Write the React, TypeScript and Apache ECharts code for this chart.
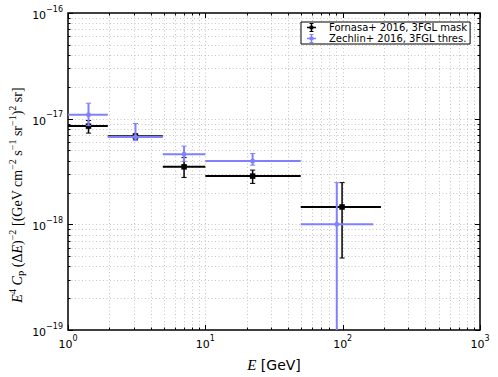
import React, { useEffect, useRef } from "react";
import * as echarts from "echarts";

// ---- data ----
const fornasaE = [1.41, 3.1, 7.0, 22.1, 99];
const fornasaElo = [1.0, 1.95, 4.9, 10.0, 49.5];
const fornasaEhi = [1.95, 4.9, 10.0, 49.5, 190];
const fornasaY = [8.5e-18, 6.8e-18, 3.5e-18, 2.86e-18, 1.46e-18];
const fornasaYlo = [7.3e-18, 6.4e-18, 2.78e-18, 2.44e-18, 4.8e-19];
const fornasaYhi = [9.6e-18, 7.2e-18, 4.28e-18, 3.26e-18, 2.48e-18];

const zechlinE = [1.41, 3.1, 7.0, 22.1, 90.6];
const zechlinElo = [1.0, 1.95, 4.9, 10.0, 49.5];
const zechlinEhi = [1.95, 4.9, 10.0, 49.5, 167];
const zechlinY = [1.09e-17, 6.7e-18, 4.6e-18, 3.97e-18, 1.0e-18];
const zechlinYlo = [8.6e-18, 6.2e-18, 3.95e-18, 3.63e-18, 0];
const zechlinYhi = [1.4e-17, 9.0e-18, 5.5e-18, 4.67e-18, 2.48e-18];

const xDecades = [1, 10, 100, 1000];
const yDecades = [1e-19, 1e-18, 1e-17, 1e-16];
const minorMult = [2, 3, 4, 5, 6, 7, 8, 9];

const nameF = "Fornasa+ 2016, 3FGL mask";
const nameZ = "Zechlin+ 2016, 3FGL thres.";
const colorF = "#000000";
const colorZ = "#8080ff";

const ICON =
  "path://M4.2,0h1.6v10h-1.6z M0,4.3h10v1.4h-10z M2.8,0h4.4v1h-4.4z M2.8,9h4.4v1h-4.4z M3,3h4v4h-4z";

function buildRows(e: number[], elo: number[], ehi: number[], y: number[], ylo: number[], yhi: number[]) {
  return e.map((v, i) => [v, y[i], elo[i], ehi[i], ylo[i], yhi[i]]);
}

function errRender(color: string, marker: number, hW: number, vW: number) {
  return (params: any, api: any) => {
    const cs = params.coordSys;
    const x = api.value(0), y = api.value(1);
    const xl = api.value(2), xh = api.value(3);
    const yl = api.value(4), yh = api.value(5);
    const c = api.coord([x, y]);
    const pl = api.coord([xl, y]);
    const ph = api.coord([xh, y]);
    const top = Math.max(api.coord([x, yh])[1], cs.y);
    const hasLow = yl > 0;
    const bottom = hasLow ? Math.min(api.coord([x, yl])[1], cs.y + cs.height) : cs.y + cs.height;
    const capHalf = 2.6;
    const children: any[] = [
      { type: "line", shape: { x1: pl[0], y1: c[1], x2: ph[0], y2: c[1] }, style: { stroke: color, lineWidth: hW } },
      { type: "line", shape: { x1: c[0], y1: top, x2: c[0], y2: bottom }, style: { stroke: color, lineWidth: vW } },
      { type: "line", shape: { x1: c[0] - capHalf, y1: top, x2: c[0] + capHalf, y2: top }, style: { stroke: color, lineWidth: 1 } },
    ];
    if (hasLow) {
      children.push({ type: "line", shape: { x1: c[0] - capHalf, y1: bottom, x2: c[0] + capHalf, y2: bottom }, style: { stroke: color, lineWidth: 1 } });
    }
    children.push({
      type: "rect",
      shape: { x: c[0] - marker / 2, y: c[1] - marker / 2, width: marker, height: marker },
      style: { fill: color },
    });
    return { type: "group", children };
  };
}

function frameRender(params: any, api: any) {
  const cs = params.coordSys;
  const left = cs.x, right = cs.x + cs.width, topY = cs.y, botY = cs.y + cs.height;
  const children: any[] = [];
  const gridStyle = { stroke: "#c4c4c4", lineWidth: 1, lineDash: [1, 2.5] };
  const xs: { v: number; major: boolean }[] = [];
  xDecades.forEach((d, i) => {
    xs.push({ v: d, major: true });
    if (i < xDecades.length - 1) minorMult.forEach((m) => xs.push({ v: d * m, major: false }));
  });
  const ys: { v: number; major: boolean }[] = [];
  yDecades.forEach((d, i) => {
    ys.push({ v: d, major: true });
    if (i < yDecades.length - 1) minorMult.forEach((m) => ys.push({ v: d * m, major: false }));
  });
  xs.forEach(({ v, major }) => {
    const px = Math.round(api.coord([v, yDecades[0]])[0]) + 0.5;
    if (px > left + 1 && px < right - 1) {
      children.push({ type: "line", shape: { x1: px, y1: topY, x2: px, y2: botY }, style: gridStyle });
    }
    const L = major ? 5 : 2.5;
    children.push({ type: "line", shape: { x1: px, y1: botY, x2: px, y2: botY - L }, style: { stroke: "#000", lineWidth: 1 } });
    children.push({ type: "line", shape: { x1: px, y1: topY, x2: px, y2: topY + L }, style: { stroke: "#000", lineWidth: 1 } });
  });
  ys.forEach(({ v, major }) => {
    const py = Math.round(api.coord([xDecades[0], v])[1]) + 0.5;
    if (py > topY + 1 && py < botY - 1) {
      children.push({ type: "line", shape: { x1: left, y1: py, x2: right, y2: py }, style: gridStyle });
    }
    const L = major ? 5 : 2.5;
    children.push({ type: "line", shape: { x1: left, y1: py, x2: left + L, y2: py }, style: { stroke: "#000", lineWidth: 1 } });
    children.push({ type: "line", shape: { x1: right, y1: py, x2: right - L, y2: py }, style: { stroke: "#000", lineWidth: 1 } });
  });
  return { type: "group", children };
}

const supLabel = (v: number) => {
  const e = Math.round(Math.log10(v));
  const s = e < 0 ? "\u2212" + Math.abs(e) : String(e);
  return `{b|10}{s|${s}}`;
};

const labelRich = {
  b: { fontSize: 11, fontFamily: "DejaVu Sans", color: "#000", lineHeight: 16, verticalAlign: "bottom" },
  s: { fontSize: 8, fontFamily: "DejaVu Sans", color: "#000", lineHeight: 16, verticalAlign: "top" },
};

export default function App() {
  const ref = useRef<HTMLDivElement>(null);
  useEffect(() => {
    if (!ref.current) return;
    const chart = echarts.init(ref.current, undefined, { renderer: "svg" });
    const option: any = {
      animation: false,
      backgroundColor: "#ffffff",
      grid: { left: 68, right: 18, top: 13, bottom: 44, show: true, borderColor: "#000", borderWidth: 1.5, backgroundColor: "transparent" },
      xAxis: {
        type: "log",
        logBase: 10,
        min: 1,
        max: 1000,
        axisLine: { show: false },
        axisTick: { show: false },
        splitLine: { show: false },
        minorTick: { show: false },
        axisLabel: { formatter: supLabel, rich: labelRich, margin: 4, showMinLabel: true, showMaxLabel: true },
        name: "{i|E} [GeV]",
        nameLocation: "middle",
        nameGap: 27,
        nameTextStyle: {
          rich: {
            i: { fontFamily: "Liberation Serif", fontStyle: "italic", fontSize: 15, color: "#000" },
          },
          fontFamily: "DejaVu Sans",
          fontSize: 14,
          color: "#000",
        },
      },
      yAxis: {
        type: "log",
        logBase: 10,
        min: 1e-19,
        max: 1e-16,
        axisLine: { show: false },
        axisTick: { show: false },
        splitLine: { show: false },
        minorTick: { show: false },
        axisLabel: { formatter: supLabel, rich: labelRich, margin: 5, showMinLabel: true, showMaxLabel: true },
      },
      legend: {
        show: true,
        left: 301,
        top: 22,
        orient: "vertical",
        itemGap: 0,
        itemWidth: 9,
        itemHeight: 9,
        padding: [0, 3, 0, 6],
        borderColor: "#000",
        borderWidth: 1,
        borderRadius: 0,
        backgroundColor: "#ffffff",
        selectedMode: false,
        textStyle: { fontSize: 10, fontFamily: "DejaVu Sans", color: "#000", lineHeight: 11, padding: [0, 0, 0, 8] },
        data: [
          { name: nameF, icon: ICON, itemStyle: { color: colorF } },
          { name: nameZ, icon: ICON, itemStyle: { color: colorZ } },
        ],
      },
      graphic: [
        {
          type: "text",
          x: 17,
          y: 195,
          rotation: Math.PI / 2,
          style: {
            text:
              "{i|E}{sup|4} {i|C}{sub|P} (\u0394{i|E}){sup|\u22122} [(GeV cm{sup|\u22122} s{sup|\u22121} sr{sup|\u22121}){sup|2} sr]",
            align: "center",
            verticalAlign: "middle",
            fontFamily: "Liberation Serif",
            fontSize: 14,
            fill: "#000",
            lineHeight: 20,
            rich: {
              i: { fontFamily: "Liberation Serif", fontStyle: "italic", fontSize: 14, lineHeight: 20 },
              sup: { fontFamily: "Liberation Serif", fontSize: 10, lineHeight: 20, verticalAlign: "top" },
              sub: { fontFamily: "Liberation Serif", fontSize: 10, lineHeight: 20, verticalAlign: "bottom" },
            },
          },
        },
      ],
      series: [
        {
          type: "custom",
          name: "frame",
          silent: true,
          z: 1,
          data: [[xDecades[0], yDecades[0]]],
          renderItem: frameRender,
        },
        {
          type: "custom",
          name: nameF,
          z: 3,
          itemStyle: { color: colorF },
          data: buildRows(fornasaE, fornasaElo, fornasaEhi, fornasaY, fornasaYlo, fornasaYhi),
          encode: { x: 0, y: 1 },
          renderItem: errRender(colorF, 5.5, 2, 1.5),
        },
        {
          type: "custom",
          name: nameZ,
          z: 4,
          itemStyle: { color: colorZ },
          data: buildRows(zechlinE, zechlinElo, zechlinEhi, zechlinY, zechlinYlo, zechlinYhi),
          encode: { x: 0, y: 1 },
          renderItem: errRender(colorZ, 4, 2, 2),
        },
      ],
    };
    chart.setOption(option);
    return () => chart.dispose();
  }, []);
  return <div ref={ref} style={{ width: 498, height: 377, position: "absolute", left: 0, top: 0 }} />;
}
